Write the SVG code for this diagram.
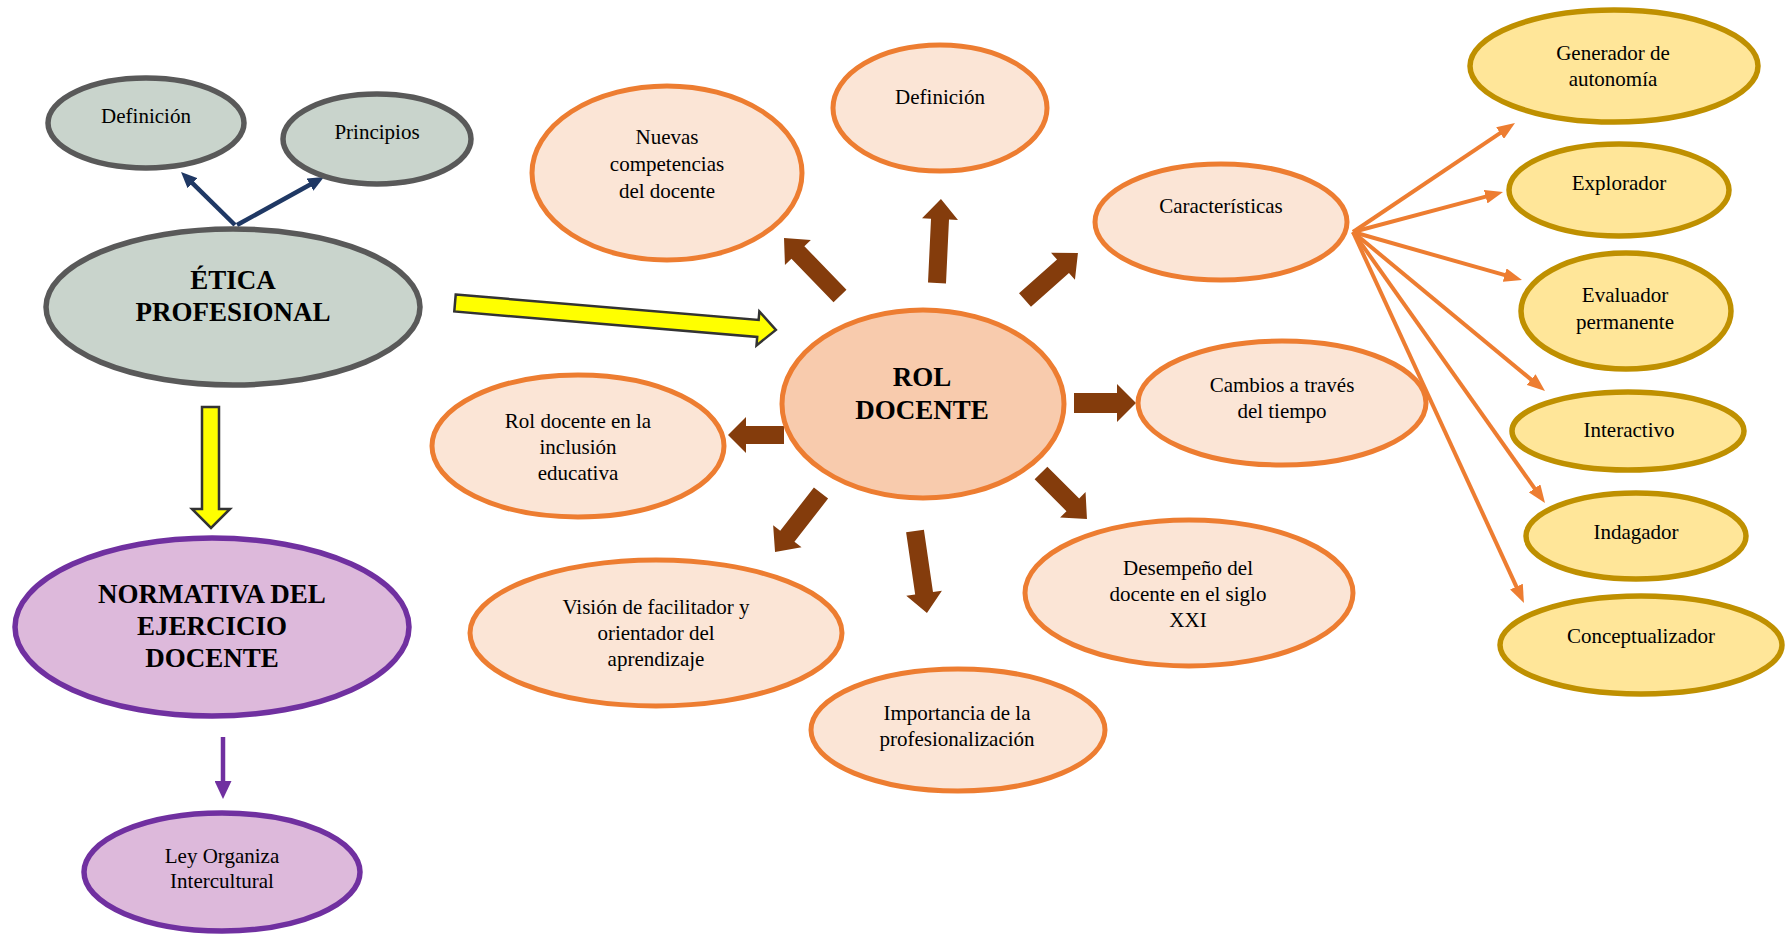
<svg xmlns="http://www.w3.org/2000/svg" width="1789" height="936" viewBox="0 0 1789 936">
<style>
text{font-family:"Liberation Serif","Times New Roman",serif;fill:#000;text-anchor:middle}
.t{font-size:21px}
.b{font-size:27px;font-weight:bold}
.gray{fill:#C9D4CC;stroke:#595959;stroke-width:5.5}
.pur{fill:#DDB9DB;stroke:#7030A0;stroke-width:5.5}
.org{fill:#FBE5D6;stroke:#ED7D31;stroke-width:5}
.rol{fill:#F8CBAD;stroke:#ED7D31;stroke-width:5}
.yel{fill:#FFE699;stroke:#BF9000;stroke-width:5.5}
.brown{fill:#843C0C;stroke:none}
.yarr{fill:#FFFF00;stroke:#333;stroke-width:2.5;stroke-linejoin:miter}
.navy{stroke:#1F3864;stroke-width:4.5;fill:none}
.oline{stroke:#ED7D31;stroke-width:4;fill:none}
.pline{stroke:#7030A0;stroke-width:4.5;fill:none}
</style>
<defs>
<marker id="mNavy" markerUnits="userSpaceOnUse" markerWidth="16" markerHeight="14" refX="4" refY="7" orient="auto"><path d="M0,0 L16,7 L0,14 z" fill="#1F3864"/></marker>
<marker id="mOrg" markerUnits="userSpaceOnUse" markerWidth="18" markerHeight="14" refX="4" refY="7" orient="auto"><path d="M0,0 L18,7 L0,14 z" fill="#ED7D31"/></marker>
<marker id="mPur" markerUnits="userSpaceOnUse" markerWidth="18" markerHeight="17" refX="4" refY="8.5" orient="auto"><path d="M0,0 L18,8.5 L0,17 z" fill="#7030A0"/></marker>
</defs>

<g id="connectors">
<line class="navy" x1="235" y1="225" x2="189.6" y2="180.4" marker-end="url(#mNavy)"/>
<line class="navy" x1="237" y1="225" x2="313.5" y2="182.8" marker-end="url(#mNavy)"/>
<polygon class="yarr" transform="translate(455,303) rotate(4.8)" points="0,-8.5 304,-8.5 304,-17 322,0 304,17 304,8.5 0,8.5"/>
<polygon class="yarr" points="202,407 219,407 219,509 230,509 211,528 192,509 202,509"/>
<line class="pline" x1="223" y1="737" x2="223" y2="785" marker-end="url(#mPur)"/>
<polygon class="brown" transform="translate(840,296) rotate(-134)" points="0,-9 60.6,-9 60.6,-18 80.6,0 60.6,18 60.6,9 0,9"/>
<polygon class="brown" transform="translate(937,283) rotate(-87.3)" points="0,-9 64,-9 64,-18 84,0 64,18 64,9 0,9"/>
<polygon class="brown" transform="translate(1025,300) rotate(-41.6)" points="0,-9 50.8,-9 50.8,-18 70.8,0 50.8,18 50.8,9 0,9"/>
<polygon class="brown" transform="translate(1074,403)" points="0,-10 43,-10 43,-19 62,0 43,19 43,10 0,10"/>
<polygon class="brown" transform="translate(784,435) rotate(180)" points="0,-9 38,-9 38,-18 56,0 38,18 38,9 0,9"/>
<polygon class="brown" transform="translate(821,493) rotate(127.9)" points="0,-9 54.8,-9 54.8,-18 74.8,0 54.8,18 54.8,9 0,9"/>
<polygon class="brown" transform="translate(915,531) rotate(81.7)" points="0,-9 62.9,-9 62.9,-18 82.9,0 62.9,18 62.9,9 0,9"/>
<polygon class="brown" transform="translate(1041,473) rotate(45)" points="0,-9 45,-9 45,-18 65,0 45,18 45,9 0,9"/>
<line class="oline" x1="1353" y1="232" x2="1503.4" y2="130.8" marker-end="url(#mOrg)"/>
<line class="oline" x1="1353" y1="232" x2="1489.5" y2="195.6" marker-end="url(#mOrg)"/>
<line class="oline" x1="1353" y1="232" x2="1508.5" y2="276.2" marker-end="url(#mOrg)"/>
<line class="oline" x1="1353" y1="232" x2="1534.2" y2="382.1" marker-end="url(#mOrg)"/>
<line class="oline" x1="1353" y1="232" x2="1536.9" y2="491.6" marker-end="url(#mOrg)"/>
<line class="oline" x1="1353" y1="232" x2="1518.1" y2="590.3" marker-end="url(#mOrg)"/>
</g>

<g id="etica-definicion"><ellipse class="gray" cx="146" cy="123" rx="98" ry="45"/><text class="t" x="146" y="123">Definición</text></g>
<g id="etica-principios"><ellipse class="gray" cx="377" cy="139" rx="94" ry="45"/><text class="t" x="377" y="139">Principios</text></g>
<g id="etica"><ellipse class="gray" cx="233" cy="307" rx="187" ry="78"/><text class="b" x="233" y="289">ÉTICA</text><text class="b" x="233" y="321">PROFESIONAL</text></g>
<g id="normativa"><ellipse class="pur" cx="212" cy="627" rx="197" ry="89"/><text class="b" x="212" y="603">NORMATIVA DEL</text><text class="b" x="212" y="635">EJERCICIO</text><text class="b" x="212" y="667">DOCENTE</text></g>
<g id="ley"><ellipse class="pur" cx="222" cy="872" rx="138" ry="59"/><text class="t" x="222" y="863">Ley Organiza</text><text class="t" x="222" y="888">Intercultural</text></g>

<g id="rol-docente"><ellipse class="rol" cx="923" cy="404" rx="141" ry="94"/><text class="b" x="922" y="386">ROL</text><text class="b" x="922" y="419">DOCENTE</text></g>
<g id="nuevas"><ellipse class="org" cx="667" cy="173" rx="135" ry="87"/><text class="t" x="667" y="144">Nuevas</text><text class="t" x="667" y="171">competencias</text><text class="t" x="667" y="198">del docente</text></g>
<g id="rol-definicion"><ellipse class="org" cx="940" cy="108" rx="107" ry="63"/><text class="t" x="940" y="104">Definición</text></g>
<g id="caracteristicas"><ellipse class="org" cx="1221" cy="222" rx="126" ry="58"/><text class="t" x="1221" y="213">Características</text></g>
<g id="cambios"><ellipse class="org" cx="1282" cy="403" rx="144" ry="62"/><text class="t" x="1282" y="392">Cambios a través</text><text class="t" x="1282" y="418">del tiempo</text></g>
<g id="inclusion"><ellipse class="org" cx="578" cy="446" rx="146" ry="71"/><text class="t" x="578" y="428">Rol docente en la</text><text class="t" x="578" y="454">inclusión</text><text class="t" x="578" y="480">educativa</text></g>
<g id="vision"><ellipse class="org" cx="656" cy="633" rx="186" ry="73"/><text class="t" x="656" y="614">Visión de facilitador y</text><text class="t" x="656" y="640">orientador del</text><text class="t" x="656" y="666">aprendizaje</text></g>
<g id="importancia"><ellipse class="org" cx="958" cy="730" rx="147" ry="61"/><text class="t" x="957" y="720">Importancia de la</text><text class="t" x="957" y="746">profesionalización</text></g>
<g id="desempeno"><ellipse class="org" cx="1189" cy="593" rx="164" ry="73"/><text class="t" x="1188" y="575">Desempeño del</text><text class="t" x="1188" y="601">docente en el siglo</text><text class="t" x="1188" y="627">XXI</text></g>

<g id="generador"><ellipse class="yel" cx="1614" cy="66" rx="144" ry="56"/><text class="t" x="1613" y="60">Generador de</text><text class="t" x="1613" y="86">autonomía</text></g>
<g id="explorador"><ellipse class="yel" cx="1619" cy="190" rx="110" ry="46"/><text class="t" x="1619" y="190">Explorador</text></g>
<g id="evaluador"><ellipse class="yel" cx="1626" cy="311" rx="105" ry="58"/><text class="t" x="1625" y="302">Evaluador</text><text class="t" x="1625" y="329">permanente</text></g>
<g id="interactivo"><ellipse class="yel" cx="1628" cy="431" rx="116" ry="39"/><text class="t" x="1629" y="437">Interactivo</text></g>
<g id="indagador"><ellipse class="yel" cx="1636" cy="536" rx="110" ry="43"/><text class="t" x="1636" y="539">Indagador</text></g>
<g id="conceptualizador"><ellipse class="yel" cx="1641" cy="645" rx="141" ry="49"/><text class="t" x="1641" y="643">Conceptualizador</text></g>
</svg>
